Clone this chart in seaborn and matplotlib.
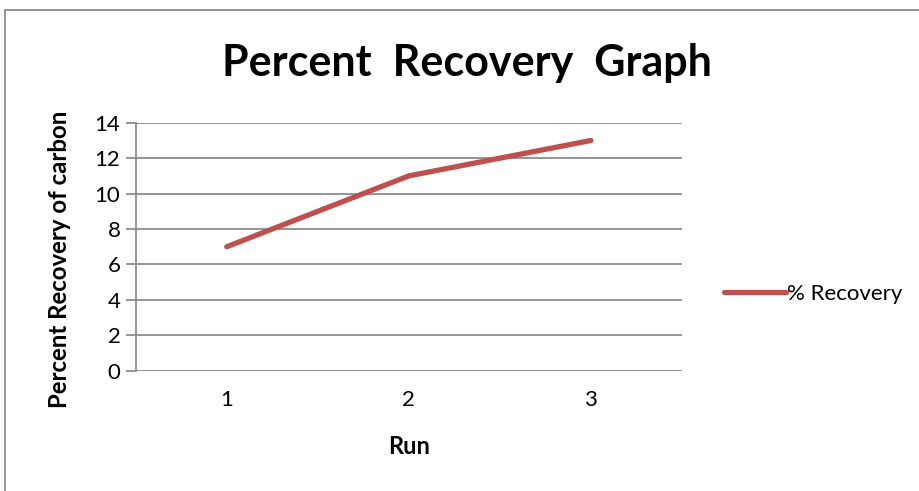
import matplotlib
matplotlib.use("Agg")
import matplotlib.pyplot as plt
from matplotlib.patches import Rectangle
import seaborn as sns
import pandas as pd

runs = ["1", "2", "3"]
recovery = [7, 11, 13]
y_ticks = [0, 2, 4, 6, 8, 10, 12, 14]

sns.set_theme(style="white")
plt.rcParams["font.family"] = ["Lato", "DejaVu Sans"]
plt.rcParams["text.color"] = "black"
plt.rcParams["axes.labelcolor"] = "black"

df = pd.DataFrame({"Run": runs, "% Recovery": recovery})

fig = plt.figure(figsize=(9.2, 4.91), dpi=100)
ax = fig.add_axes([0.1475, 0.245, 0.5938, 0.505])

sns.lineplot(data=df, x="Run", y="% Recovery", ax=ax, color="#C0504D",
             linewidth=3.8, solid_capstyle="round", label="% Recovery", sort=False)

grid_c = "#8C8C8C"
ax.set_xlim(-0.5, 2.5)
ax.set_ylim(0, 14)
ax.set_yticks(y_ticks)
ax.yaxis.grid(True, color=grid_c, linewidth=1.3)
ax.set_axisbelow(True)
for s in ["top", "right", "bottom"]:
    ax.spines[s].set_visible(False)
ax.spines["left"].set_color(grid_c)
ax.spines["left"].set_linewidth(1.3)
ax.tick_params(axis="y", length=7, width=1.3, color=grid_c, left=True,
               labelsize=16, pad=4, labelcolor="black")
ax.tick_params(axis="x", length=0, labelsize=16, pad=14, labelcolor="black")

ax.set_xlabel("Run", fontsize=17, fontweight="bold", labelpad=18)
ax.set_ylabel("Percent Recovery of carbon", fontsize=17.3, fontweight="bold")
ax.yaxis.set_label_coords(-0.118, 0.45)

fig.text(0.508, 0.872, "Percent  Recovery  Graph", ha="center", va="center",
         fontsize=31, fontweight="bold", color="black")

leg = ax.legend(loc="center left", bbox_to_anchor=(1.04, 0.31), frameon=False,
                fontsize=16, handlelength=2.8, handletextpad=0.05)

fig.patches.append(Rectangle((5 / 920, -0.1), 1.2, (491 - 10) / 491 + 0.1,
                             transform=fig.transFigure, fill=False,
                             edgecolor="#8C8C8C", linewidth=1.3))

fig.savefig("out.png", dpi=100)
